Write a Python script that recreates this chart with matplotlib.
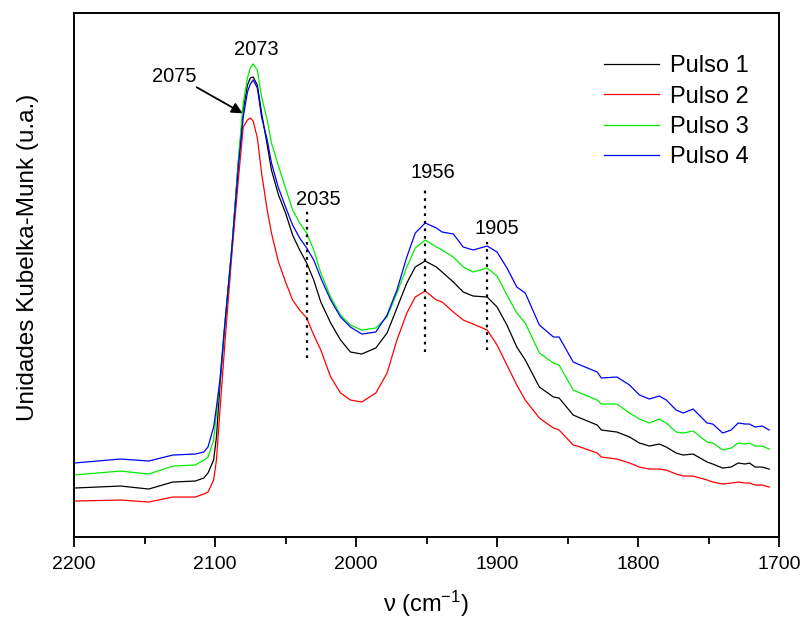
import numpy as np
import matplotlib
matplotlib.use('Agg')
import matplotlib.pyplot as plt
from matplotlib.ticker import MultipleLocator

plt.rcParams['font.family'] = ['Liberation Sans', 'DejaVu Sans']
plt.rcParams['mathtext.default'] = 'regular'

# wavenumber (cm-1) and Kubelka-Munk intensity (arbitrary units)
nu = [2200, 2167, 2147, 2130, 2114, 2108, 2105, 2101, 2099, 2096.5, 2093, 2088, 2083.5, 2080,
      2077, 2075, 2073, 2070, 2067, 2063, 2060, 2055, 2050, 2045, 2040, 2035, 2030, 2025,
      2018, 2011, 2004, 1996, 1986, 1978, 1971, 1964, 1958, 1951, 1943, 1939, 1931, 1924,
      1917, 1907, 1900, 1893, 1886, 1880, 1870, 1860, 1856, 1846, 1841, 1829, 1826, 1815,
      1806, 1799, 1792, 1785, 1780, 1773, 1768, 1761, 1751, 1747, 1740, 1734, 1729, 1724,
      1721, 1717, 1712, 1707]

pulso1 = [49, 51, 48, 55, 56, 59, 64, 77, 100, 152, 212, 290, 374, 427,
          452, 459, 460, 452, 424, 392, 367, 342, 324, 302, 287, 274, 257, 235,
          214, 197, 185, 183, 189, 204, 229, 254, 270, 276, 270, 265, 255, 245,
          241, 240, 230, 212, 190, 177, 150, 140, 139, 122, 119, 112, 107, 105,
          100, 94, 91, 93, 90, 84, 82, 83, 75, 73, 69, 70, 74, 73,
          74, 70, 70, 68]

pulso2 = [36, 37, 35, 40, 40, 43, 45, 57, 77, 127, 194, 284, 357, 410,
          417, 419, 416, 399, 364, 327, 304, 275, 255, 237, 227, 219, 202, 187,
          160, 144, 137, 135, 144, 164, 197, 224, 240, 246, 237, 235, 225, 217,
          213, 207, 192, 172, 152, 137, 119, 109, 107, 92, 90, 84, 80, 78,
          74, 70, 68, 68, 67, 63, 61, 61, 57, 55, 53, 54, 55, 54,
          54, 52, 52, 50]

pulso3 = [62, 66, 63, 71, 72, 77, 80, 97, 124, 157, 214, 290, 377, 434,
          459, 469, 473, 467, 440, 417, 394, 371, 349, 327, 314, 304, 287, 264,
          240, 222, 212, 207, 209, 220, 244, 270, 289, 297, 290, 287, 280, 270,
          265, 269, 261, 242, 224, 214, 184, 174, 172, 147, 144, 137, 133, 133,
          124, 118, 114, 118, 114, 105, 104, 106, 95, 94, 87, 89, 94, 93,
          94, 91, 91, 88]

pulso4 = [74, 78, 76, 82, 83, 85, 90, 110, 130, 157, 214, 290, 370, 420,
          445, 453, 457, 449, 420, 397, 374, 349, 330, 312, 299, 289, 277, 259,
          237, 220, 210, 203, 205, 222, 247, 280, 304, 314, 309, 305, 303, 290,
          287, 291, 285, 269, 250, 244, 212, 200, 200, 175, 172, 165, 159, 160,
          152, 142, 138, 141, 137, 127, 124, 128, 114, 113, 104, 107, 114, 113,
          113, 110, 111, 107]

series = [('Pulso 1', pulso1, 'black'),
          ('Pulso 2', pulso2, '#ff0000'),
          ('Pulso 3', pulso3, '#00ee00'),
          ('Pulso 4', pulso4, '#0000ff')]

# band markers: position, label, label x, label y, line bottom, line top
bands = [(2035, '2035', 2027, 338, 179, 327),
         (1951, '1956', 1945.6, 364, 185, 348),
         (1907, '1905', 1900, 309, 187, 295)]

fig = plt.figure(figsize=(8.03, 6.18), dpi=100)
ax = fig.add_axes([0.0922, 0.131, 0.878, 0.848])

for name, vals, col in series:
    ax.plot(nu, vals, color=col, lw=0.9, label=name)

for pos, lab, tx, ty, y0, y1 in bands:
    ax.plot([pos, pos], [y0, y1], color='black', ls=(0, (1.2, 2.2)), lw=1.6)
    ax.text(tx, ty, lab, ha='center', va='center', fontsize=14.5)

ax.text(2070.9, 487.5, '2073', ha='center', va='center', fontsize=14.5)
ax.text(2128.6, 460, '2075', ha='center', va='center', fontsize=14.5)
ax.annotate('', xy=(2080.4, 423.7), xytext=(2113, 449.7),
            arrowprops=dict(arrowstyle='-|>', color='black', lw=1.3,
                            mutation_scale=16, shrinkA=0, shrinkB=0))

ax.set_xlim(2200, 1700)
ax.set_ylim(0, 524)
ax.xaxis.set_major_locator(MultipleLocator(100))
ax.xaxis.set_minor_locator(MultipleLocator(50))
ax.tick_params(axis='x', which='major', direction='out', length=7, width=1.3,
               labelsize=14, pad=7)
ax.tick_params(axis='x', which='minor', direction='out', length=5, width=1.3)
ax.set_yticks([])
for sp in ax.spines.values():
    sp.set_linewidth(1.4)

ax.set_xlabel(r'ν (cm$^{-1}$)', fontsize=17)
ax.xaxis.set_label_coords(0.499, -0.098)
ax.set_ylabel('Unidades Kubelka-Munk (u.a.)', fontsize=17.5)
ax.yaxis.set_label_coords(-0.05, 0.534)

ax.legend(loc='upper right', bbox_to_anchor=(0.97, 0.937), frameon=False,
          fontsize=17, handlelength=2.35, handletextpad=0.45, labelspacing=0.35,
          borderaxespad=0)

fig.savefig('out.png', dpi=100)
